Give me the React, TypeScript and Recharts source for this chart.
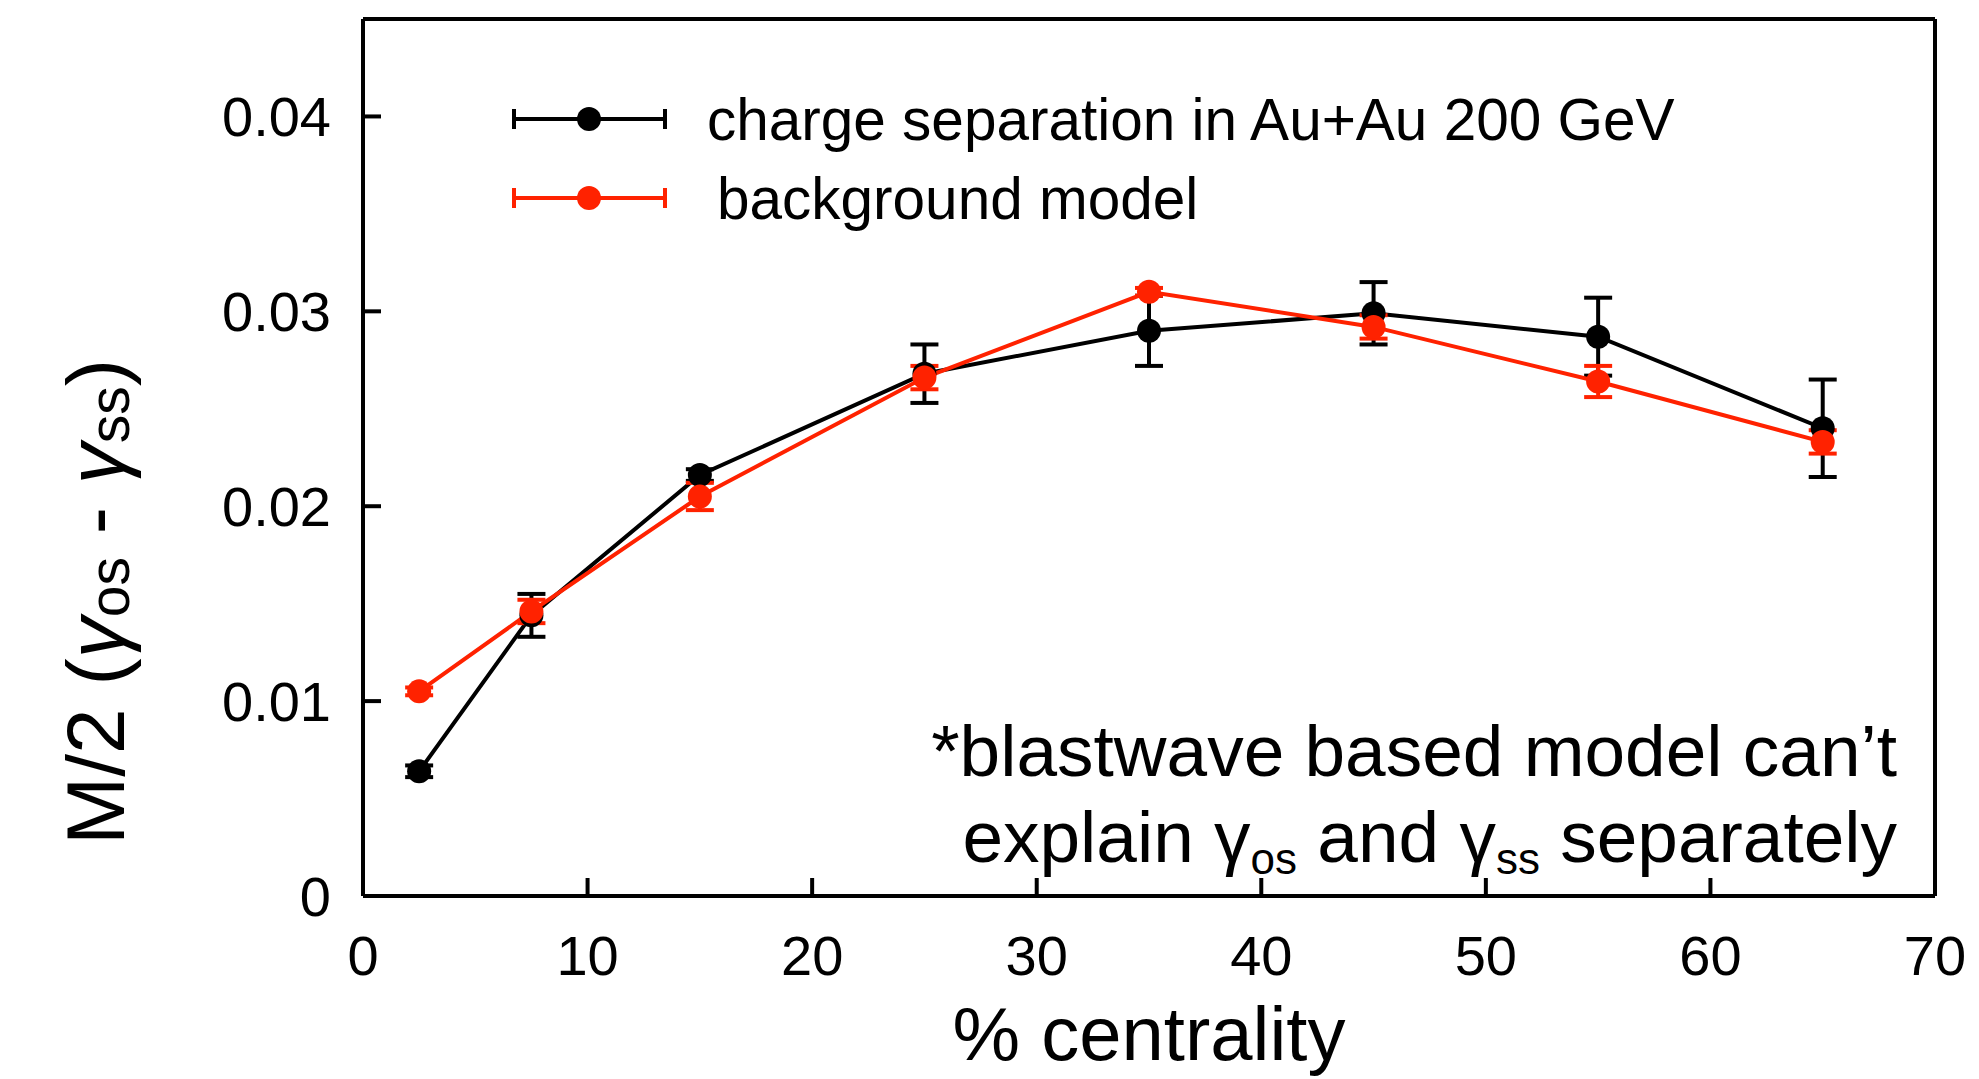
import React from 'react'
import { ComposedChart, Line, XAxis, YAxis, ErrorBar, Legend, Label } from 'recharts'

const centrality = [2.5, 7.5, 15, 25, 35, 45, 55, 65]
const chargeSep = [0.0064, 0.0144, 0.0216, 0.0268, 0.029, 0.0299, 0.0287, 0.024]
const chargeSepErr = [0.0003, 0.0011, 0.0003, 0.0015, 0.0018, 0.0016, 0.002, 0.0025]
const background = [0.0105, 0.0146, 0.0205, 0.0266, 0.031, 0.0292, 0.0264, 0.0233]
const backgroundErr = [0.0002, 0.0006, 0.0007, 0.0006, 0.0002, 0.0006, 0.0008, 0.0006]
const xTicks = [0, 10, 20, 30, 40, 50, 60, 70]
const yTicks = [0, 0.01, 0.02, 0.03, 0.04]
const seriesNames = ['charge separation in Au+Au 200 GeV', 'background model']

const RED = '#ff2200'
const FONT = '"Liberation Sans", Arial, Helvetica, sans-serif'

const data = centrality.map((x, i) => ({
  x,
  cs: chargeSep[i],
  csErr: chargeSepErr[i],
  bg: background[i],
  bgErr: backgroundErr[i],
}))

const axisLine = { stroke: '#000', strokeWidth: 4 }
const tickLine = { stroke: '#000', strokeWidth: 4 }
const tickFont = { fill: '#000', fontSize: 56 }

function LegendContent(props: any) {
  const rows = [...(props.payload ?? [])].sort(
    (a: any, b: any) => seriesNames.indexOf(a.value) - seriesNames.indexOf(b.value)
  )
  return (
    <svg width={1979} height={240} style={{ display: 'block' }}>
      {rows.map((p: any, i: number) => {
        const y = 119 + i * 79
        return (
          <g key={i} stroke={p.color} strokeWidth={4}>
            <line x1={514} x2={665} y1={y} y2={y} />
            <line x1={514} x2={514} y1={y - 10} y2={y + 10} />
            <line x1={665} x2={665} y1={y - 10} y2={y + 10} />
            <circle cx={589} cy={y} r={12} fill={p.color} stroke="none" />
            <text x={707 + i * 10} y={y} dominantBaseline="central" fontSize={58.5} fill="#000" stroke="none">
              {p.value}
            </text>
          </g>
        )
      })}
    </svg>
  )
}

function YTitle(props: any) {
  const vb = props.viewBox
  const cx = vb.x + 95
  const cy = 602
  return (
    <text x={cx} y={cy} textAnchor="middle" dominantBaseline="central" fontSize={82} fill="#000"
      transform={`rotate(-90 ${cx} ${cy})`}>
      M/2 (<tspan fontStyle="italic">γ</tspan>
      <tspan fontSize={57} dy={14}>os</tspan>
      <tspan dy={-14}> - </tspan>
      <tspan fontStyle="italic">γ</tspan>
      <tspan fontSize={57} dy={14}>ss</tspan>
      <tspan dy={-14}>)</tspan>
    </text>
  )
}

function Note(props: any) {
  const vb = props.viewBox
  const right = vb.x + vb.width - 38
  return (
    <text textAnchor="end" fontSize={73} fill="#000">
      <tspan x={right} y={vb.y - 120}>*blastwave based model can’t</tspan>
      <tspan x={right} y={vb.y - 34}>
        explain γ<tspan fontSize={44} dy={12}>os</tspan>
        <tspan dy={-12}> and γ</tspan>
        <tspan fontSize={44} dy={12}>ss</tspan>
        <tspan dy={-12}> separately</tspan>
      </tspan>
    </text>
  )
}

export default function App() {
  return (
    <div style={{ position: 'fixed', left: 0, top: 0, width: 1979, height: 1079, background: '#fff', fontFamily: FONT }}>
      <ComposedChart width={1979} height={1079} data={data} margin={{ top: 18, right: 43, bottom: 0, left: 0 }}>
        <XAxis
          dataKey="x"
          type="number"
          domain={[0, 70]}
          ticks={xTicks}
          height={183}
          axisLine={axisLine}
          tickLine={tickLine}
          tickSize={-18}
          tickMargin={57}
          tick={tickFont}
          allowDataOverflow
        >
          <Label position="insideBottom" offset={19} value="% centrality" fontSize={76} fill="#000" />
          <Label content={Note} />
        </XAxis>
        <XAxis
          xAxisId="top"
          orientation="top"
          type="number"
          domain={[0, 70]}
          ticks={xTicks}
          height={1}
          axisLine={axisLine}
          tickLine={tickLine}
          tickSize={-18}
          tick={false}
        />
        <YAxis
          type="number"
          domain={[0, 0.045]}
          ticks={yTicks}
          width={363}
          axisLine={axisLine}
          tickLine={tickLine}
          tickSize={-18}
          tickMargin={50}
          tick={tickFont}
          tickFormatter={(v: number) => (v === 0 ? '0' : v.toFixed(2))}
          allowDataOverflow
        >
          <Label content={YTitle} />
        </YAxis>
        <YAxis
          yAxisId="right"
          orientation="right"
          type="number"
          domain={[0, 0.045]}
          ticks={yTicks}
          width={1}
          axisLine={axisLine}
          tickLine={tickLine}
          tickSize={-18}
          tick={false}
        />
        <Legend
          layout="vertical"
          align="center"
          verticalAlign="middle"
          wrapperStyle={{ left: 0, top: 0, width: 1979, height: 240 }}
          content={LegendContent}
        />
        <Line
          name={seriesNames[0]}
          dataKey="cs"
          stroke="#000"
          strokeWidth={4}
          dot={{ r: 12, fill: '#000', stroke: 'none' }}
          isAnimationActive={false}
        >
          <ErrorBar dataKey="csErr" direction="y" width={14} strokeWidth={4} stroke="#000" isAnimationActive={false} />
        </Line>
        <Line
          name={seriesNames[1]}
          dataKey="bg"
          stroke={RED}
          strokeWidth={4}
          dot={{ r: 12, fill: RED, stroke: 'none' }}
          isAnimationActive={false}
        >
          <ErrorBar dataKey="bgErr" direction="y" width={14} strokeWidth={4} stroke={RED} isAnimationActive={false} />
        </Line>
      </ComposedChart>
    </div>
  )
}
